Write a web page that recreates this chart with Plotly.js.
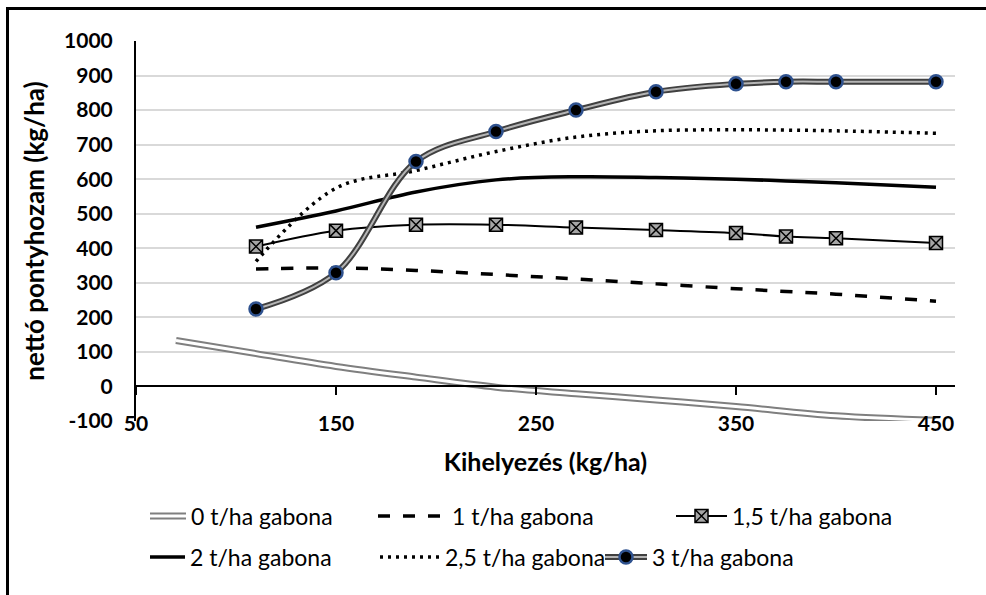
<!DOCTYPE html>
<html>
<head>
<meta charset="utf-8">
<script src="https://cdn.plot.ly/plotly-3.0.1.min.js"></script>
<style>
  html, body { margin: 0; padding: 0; background: #fff; overflow: hidden; }
  #chart { position: absolute; left: 0; top: 0; width: 986px; height: 595px; }
  #frame { position: absolute; left: 6px; top: 7px; width: 1200px; height: 1200px;
           border-left: 3px solid #000; border-top: 3px solid #000; pointer-events: none; }
</style>
</head>
<body>
<div id="chart"></div>
<div id="frame"></div>
<script>
// ---- data ----
const seriesNames = ['0 t/ha gabona', '1 t/ha gabona', '1,5 t/ha gabona', '2 t/ha gabona', '2,5 t/ha gabona', '3 t/ha gabona'];
const xZero  = [70, 110, 150, 190, 230, 270, 310, 350, 400, 450];
const xMain  = [110, 150, 190, 230, 270, 310, 350, 375, 400, 450];
const y0t    = [133, 95, 58, 27, -2, -21, -39, -58, -85, -98];
const y1t    = [340, 343, 336, 324, 311, 297, 283, 275, 267, 247];
const y15t   = [405, 451, 468, 468, 460, 453, 444, 434, 429, 415];
const y2t    = [461, 508, 563, 598, 607, 605, 600, 595, 590, 577];
const y25t   = [362, 574, 625, 680, 722, 740, 743, 742, 740, 733];
const y3t    = [224, 329, 651, 738, 800, 853, 876, 882, 882, 882];
const xTicks = [50, 150, 250, 350, 450];
const yTicks = [-100, 0, 100, 200, 300, 400, 500, 600, 700, 800, 900, 1000];
const yTickText = ['-100', '0', '100', '200', '300', '400', '500', '600', '700', '800', '900', '1000'];

const FONT = 'Lato, "Open Sans", sans-serif';
const sp = {shape: 'spline', smoothing: 1};
const dotMarker = {symbol: 'circle', size: 13, color: '#000', line: {color: '#2f528f', width: 2.5}};

const traces = [
  // 0 t/ha : double grey line
  {x: xZero, y: y0t, mode: 'lines', name: seriesNames[0], legend: 'legend',
   line: Object.assign({color: '#7f7f7f', width: 7}, sp)},
  {x: xZero, y: y0t, mode: 'lines', name: ' ', legend: 'legend7', hoverinfo: 'skip',
   line: Object.assign({color: '#ffffff', width: 3}, sp)},
  // 1 t/ha : dashed
  {x: xMain, y: y1t, mode: 'lines', name: seriesNames[1], legend: 'legend2',
   line: Object.assign({color: '#000', width: 3.5, dash: '12px,13px'}, sp)},
  // 1,5 t/ha : thin line with boxed-x markers
  {x: xMain, y: y15t, mode: 'lines+markers', name: seriesNames[2], legend: 'legend3',
   line: Object.assign({color: '#000', width: 2}, sp),
   marker: {symbol: 'square-x', size: 13, color: '#a6a6a6', line: {color: '#000', width: 1.5}}},
  // 2 t/ha : thick solid
  {x: xMain, y: y2t, mode: 'lines', name: seriesNames[3], legend: 'legend4',
   line: Object.assign({color: '#000', width: 3.5}, sp)},
  // 2,5 t/ha : dotted
  {x: xMain, y: y25t, mode: 'lines', name: seriesNames[4], legend: 'legend5',
   line: Object.assign({color: '#000', width: 3.5, dash: '3px,5px'}, sp)},
  // 3 t/ha : double dark line with round markers
  {x: xMain, y: y3t, mode: 'lines', name: seriesNames[5], legend: 'legend6',
   line: Object.assign({color: '#404040', width: 6}, sp)},
  {x: xMain, y: y3t, mode: 'lines', name: ' ', legend: 'legend8', hoverinfo: 'skip',
   line: Object.assign({color: '#b5b5b5', width: 2}, sp)},
  {x: xMain, y: y3t, mode: 'markers', name: ' ', legend: 'legend9', hoverinfo: 'skip',
   marker: dotMarker}
];

function leg(xpx, y, w) {
  return {x: (xpx - 136) / 819, y: y, xanchor: 'left', yanchor: 'middle', orientation: 'h',
          bgcolor: 'rgba(0,0,0,0)', borderwidth: 0, itemwidth: w,
          font: {family: FONT, size: 23, color: '#000'}};
}
const ROW1 = -0.25, ROW2 = -0.358;

const layout = {
  width: 986, height: 595,
  margin: {l: 136, r: 31, t: 41, b: 174},
  paper_bgcolor: '#fff', plot_bgcolor: '#fff',
  font: {family: FONT, color: '#000'},
  xaxis: {
    range: [50, 459.5], anchor: 'free', position: 100 / 1100,
    tickmode: 'array', tickvals: xTicks, ticktext: xTicks.map(String),
    showline: true, linecolor: '#000', linewidth: 2,
    ticks: 'outside', ticklen: 8, tickwidth: 2, tickcolor: '#000',
    ticklabelstandoff: 10,
    showgrid: false, zeroline: false,
    tickfont: {family: FONT, size: 21, weight: 'bold', color: '#000'},
    title: {text: 'Kihelyezés (kg/ha)', standoff: 19, font: {family: FONT, size: 25, weight: 'bold', color: '#000'}}
  },
  yaxis: {
    range: [-100, 1000], tickmode: 'array', tickvals: yTicks, ticktext: yTickText,
    showline: true, linecolor: '#000', linewidth: 2,
    ticks: '', ticklabelstandoff: 17,
    showgrid: true, gridcolor: '#d9d9d9', gridwidth: 2, zeroline: false,
    tickfont: {family: FONT, size: 21, weight: 'bold', color: '#000'},
    title: {text: 'nettó pontyhozam (kg/ha)', standoff: 12, font: {family: FONT, size: 26, weight: 'bold', color: '#000'}}
  },
  legend:  leg(145, ROW1, 36),
  legend2: leg(373, ROW1, 69),
  legend3: leg(671, ROW1, 51),
  legend4: leg(145, ROW2, 35),
  legend5: leg(375, ROW2, 60),
  legend6: leg(600, ROW2, 42),
  legend7: leg(145, ROW1, 36),
  legend8: leg(600, ROW2, 42),
  legend9: leg(600, ROW2, 42),
  showlegend: true
};

Plotly.newPlot('chart', traces, layout, {displayModeBar: false, staticPlot: true});
</script>
</body>
</html>
